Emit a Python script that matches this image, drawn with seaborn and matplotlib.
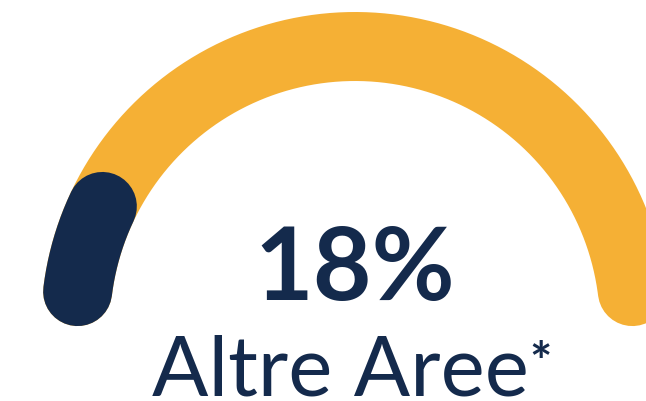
import matplotlib
matplotlib.use("Agg")
import matplotlib.pyplot as plt
import numpy as np
import seaborn as sns

# gauge data
value = 18
total = 100
label_value = "18%"
label_name = "Altre Aree"
label_note = "*"

navy = "#142a4c"
orange = "#f5b035"

sns.set_theme(style="white")
plt.rcParams['font.family'] = ['Lato', 'DejaVu Sans']

fig = plt.figure(figsize=(6.46, 4.02), dpi=100)
ax = fig.add_axes([0, 0, 1, 1])
ax.set_xlim(0, 646)
ax.set_ylim(402, 0)
ax.set_aspect("equal")
ax.axis("off")

# arc geometry in pixel space
cx, cy = 355, 327
r_mid = 279.5
half_w = 34.5
lw_pt = 2 * half_w * 72 / 100
inset = half_w / r_mid  # rounded ends sit inside the segment


def arc(start_frac, end_frac, color):
    a0 = np.pi - start_frac * np.pi - inset
    a1 = np.pi - end_frac * np.pi + inset
    t = np.linspace(a0, a1, 200)
    ax.plot(cx + r_mid * np.cos(t), cy - r_mid * np.sin(t), color=color,
            lw=lw_pt, solid_capstyle="round")


arc(0, 1, orange)
arc(0, value / total, navy)

ax.text(cx, 300, label_value, ha="center", va="baseline", fontsize=73,
        fontweight="bold", color=navy)
t = ax.text(340, 396, label_name, ha="center", va="baseline", fontsize=60,
            fontweight="normal", color=navy)

fig.canvas.draw()
bb = t.get_window_extent().transformed(ax.transData.inverted())
ax.text(bb.x1 + 1, 381, label_note, ha="left", va="baseline", fontsize=38,
        fontweight="bold", color=navy)

fig.savefig("out.png", dpi=100, facecolor="white")
